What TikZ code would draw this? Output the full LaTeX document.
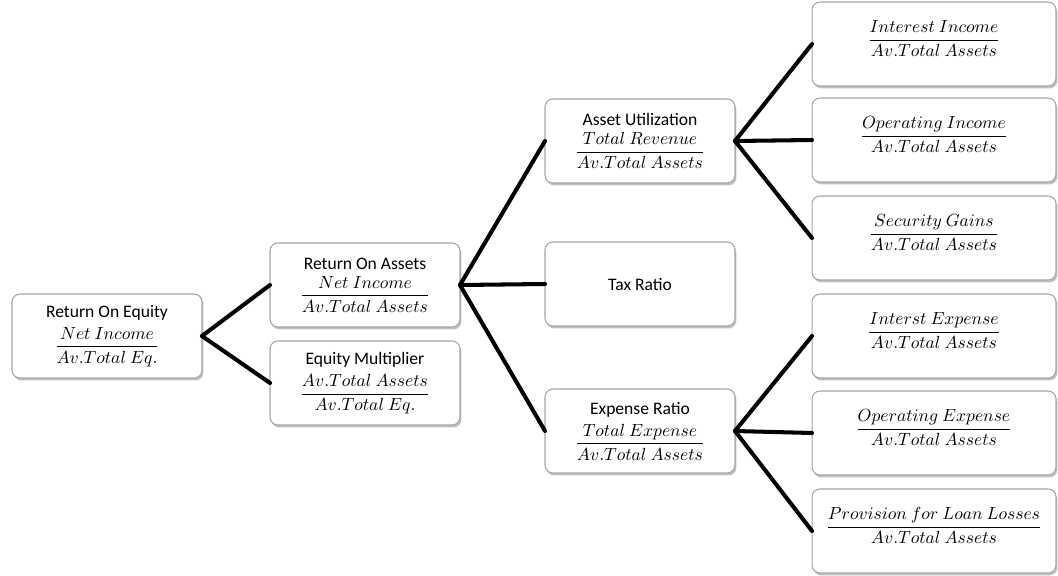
\documentclass[tikz,border=0pt]{standalone}
\usepackage{amsmath}
\usepackage{fontspec}
\setmainfont{Carlito}
\usetikzlibrary{shadows}
\newcommand{\ratio}[2]{$\dfrac{#1}{#2}$}
\newcommand{\liftratio}[2]{\raisebox{0pt}[\height][\dimexpr\depth+6pt\relax]{$\dfrac{#1}{#2}$}}

\begin{document}
\begin{tikzpicture}[x=0.02cm, y=-0.02cm,
    box/.style={draw=gray!70, line width=0.6pt, rectangle, rounded corners=4.5pt,
        fill=white, minimum width=3.8cm, minimum height=1.68cm, outer sep=0pt,
        align=center, font=\normalsize,
        drop shadow={shadow xshift=0.8pt, shadow yshift=-1.4pt, opacity=0.35, fill=black!70}},
    leaf/.style={box, minimum width=4.88cm},
    link/.style={line width=2.3pt, line cap=round}]
    \useasboundingbox (0,0) rectangle (1058,575);
        \node[box] (roe) at (107,336) {Return On Equity\\[3pt] \ratio{Net\ Income}{Av.Total\ Eq.}};
        \node[box] (roa) at (365,285) {Return On Assets\\[3pt] \ratio{Net\ Income}{Av.Total\ Assets}};
        \node[box] (em) at (365,383) {Equity Multiplier\\[3pt] \ratio{Av.Total\ Assets}{Av.Total\ Eq.}};
        \node[box] (au) at (640,141) {Asset Utilization\\[3pt] \ratio{Total\ Revenue}{Av.Total\ Assets}};
        \node[box] (tax) at (640,284) {Tax Ratio};
        \node[box] (er) at (640,431) {Expense Ratio\\[3pt] \ratio{Total\ Expense}{Av.Total\ Assets}};
        \node[leaf] (ii) at (934,44) {\liftratio{Interest\ Income}{Av.Total\ Assets}};
        \node[leaf] (oi) at (934,140) {\liftratio{Operating\ Income}{Av.Total\ Assets}};
        \node[leaf] (sg) at (934,238) {\liftratio{Security\ Gains}{Av.Total\ Assets}};
        \node[leaf] (ie) at (934,336) {\liftratio{Interst\ Expense}{Av.Total\ Assets}};
        \node[leaf] (oe) at (934,433) {\liftratio{Operating\ Expense}{Av.Total\ Assets}};
        \node[leaf] (pll) at (934,531) {\liftratio{Provision\ for\ Loan\ Losses}{Av.Total\ Assets}};
        \draw[link] (roe.east) -- (roa.west);
        \draw[link] (roe.east) -- (em.west);
        \draw[link] (roa.east) -- (au.west);
        \draw[link] (roa.east) -- (tax.west);
        \draw[link] (roa.east) -- (er.west);
        \draw[link] (au.east) -- (ii.west);
        \draw[link] (au.east) -- (oi.west);
        \draw[link] (au.east) -- (sg.west);
        \draw[link] (er.east) -- (ie.west);
        \draw[link] (er.east) -- (oe.west);
        \draw[link] (er.east) -- (pll.west);
    \end{tikzpicture}
\end{document}
